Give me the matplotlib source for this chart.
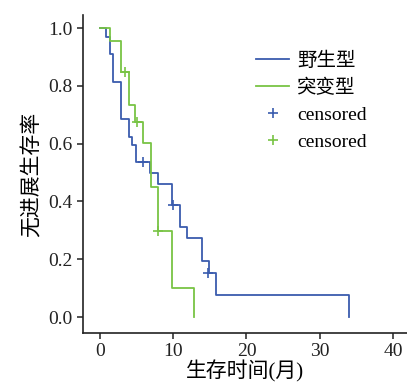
import matplotlib
matplotlib.use('Agg')
import matplotlib.pyplot as plt

plt.rcParams['font.family'] = ['Liberation Serif', 'Noto Sans CJK SC']

# Kaplan-Meier steps
wild_t = [0, 0.9, 1.45, 1.8, 2.95, 4.0, 4.45, 4.9, 6.9, 7.95, 9.9, 10.9, 11.95, 14.0, 14.9, 15.9, 34.0]
wild_s = [1.0, 0.97, 0.909, 0.814, 0.685, 0.624, 0.595, 0.535, 0.497, 0.459, 0.387, 0.31, 0.272, 0.194, 0.153, 0.076, 0.0]
mut_t = [0, 1.45, 2.95, 4.0, 4.8, 5.9, 6.95, 7.9, 9.9, 12.9]
mut_s = [1.0, 0.955, 0.848, 0.735, 0.676, 0.603, 0.451, 0.299, 0.099, 0.0]

# censored points
wild_cens_t = [5.95, 10.0, 14.8]
wild_cens_s = [0.535, 0.387, 0.153]
mut_cens_t = [3.4, 5.0, 7.9]
mut_cens_s = [0.848, 0.676, 0.299]

labels = ['野生型', '突变型', 'censored', 'censored']
xticks = [0, 10, 20, 30, 40]
yticks = [0.0, 0.2, 0.4, 0.6, 0.8, 1.0]

blue = '#3a5cae'
green = '#78c444'

fig = plt.figure(figsize=(4.07, 3.83), dpi=100)
ax = fig.add_axes([83 / 407, 50 / 383, 324 / 407, 318 / 383])

ax.step(wild_t, wild_s, where='post', color=blue, lw=1.3, label=labels[0])
ax.step(mut_t, mut_s, where='post', color=green, lw=1.3, label=labels[1])
ax.plot(wild_cens_t, wild_cens_s, ls='none', marker='+', ms=7, mew=1.2, color=blue, label=labels[2])
ax.plot(mut_cens_t, mut_cens_s, ls='none', marker='+', ms=7, mew=1.2, color=green, label=labels[3])

ax.set_xlim(-2.3, 41.9)
ax.set_ylim(-0.055, 1.045)
ax.set_xticks(xticks)
ax.set_yticks(yticks)
ax.set_yticklabels([f'{v:.1f}' for v in yticks])
ax.tick_params(labelsize=14, length=4.5, width=1.1, colors='#222222', pad=3)
for s in ['top', 'right']:
    ax.spines[s].set_visible(False)
for s in ['left', 'bottom']:
    ax.spines[s].set_linewidth(1.2)
    ax.spines[s].set_color('#222222')

ax.set_xlabel('生存时间(月)', fontsize=15, labelpad=0)
ax.set_ylabel('无进展生存率', fontsize=15, labelpad=4)

ax.legend(loc='upper left', bbox_to_anchor=(0.48, 0.94), frameon=False, fontsize=14,
          handlelength=1.7, handletextpad=0.4, labelspacing=0.47)

fig.savefig('out.png', dpi=100)
